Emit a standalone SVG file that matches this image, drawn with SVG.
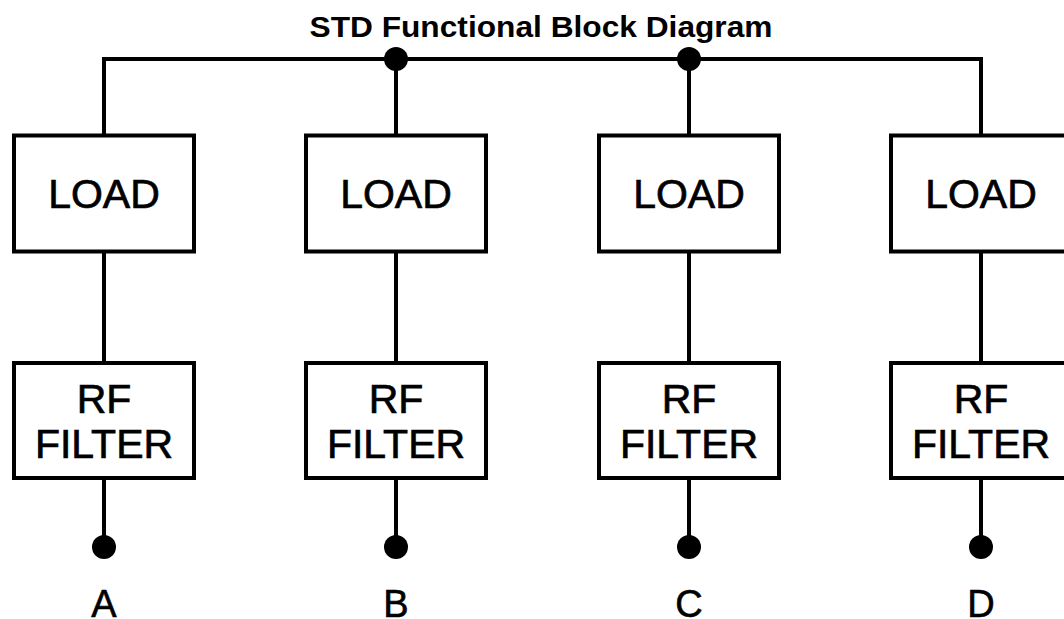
<svg xmlns="http://www.w3.org/2000/svg" width="1064" height="619" viewBox="0 0 1064 619">
<style>
.box{fill:#fff;stroke:#000;stroke-width:4}
.wire{fill:none;stroke:#000;stroke-width:4}
.dot{fill:#000}
.lbl{font-family:"Liberation Sans",Arial,sans-serif;font-size:41px;fill:#000;stroke:#000;stroke-width:0.7;text-anchor:middle}
.term{font-family:"Liberation Sans",Arial,sans-serif;font-size:38px;fill:#000;stroke:#000;stroke-width:0.6;text-anchor:middle}
.title{font-family:"Liberation Sans",Arial,sans-serif;font-size:30px;font-weight:bold;fill:#000;text-anchor:middle}
</style>
<rect width="1064" height="619" fill="#fff"/>
<text class="title" x="541" y="37" textLength="463" lengthAdjust="spacingAndGlyphs">STD Functional Block Diagram</text>
<g id="connectors">
<polyline class="wire" points="104,135 104,59 981,59 981,135"/>
<line class="wire" x1="396" y1="59" x2="396" y2="135"/>
<line class="wire" x1="689" y1="59" x2="689" y2="135"/>
<circle class="dot" cx="396" cy="59" r="12"/>
<circle class="dot" cx="689" cy="59" r="12"/>
<line class="wire" x1="104" y1="252" x2="104" y2="363"/>
<line class="wire" x1="396" y1="252" x2="396" y2="363"/>
<line class="wire" x1="689" y1="252" x2="689" y2="363"/>
<line class="wire" x1="981" y1="252" x2="981" y2="363"/>
<line class="wire" x1="104" y1="478" x2="104" y2="547"/>
<line class="wire" x1="396" y1="478" x2="396" y2="547"/>
<line class="wire" x1="689" y1="478" x2="689" y2="547"/>
<line class="wire" x1="981" y1="478" x2="981" y2="547"/>
</g>
<g id="load-a"><rect class="box" x="14" y="135.5" width="180" height="116"/><text class="lbl" x="104" y="208">LOAD</text></g>
<g id="load-b"><rect class="box" x="306" y="135.5" width="180" height="116"/><text class="lbl" x="396" y="208">LOAD</text></g>
<g id="load-c"><rect class="box" x="599" y="135.5" width="180" height="116"/><text class="lbl" x="689" y="208">LOAD</text></g>
<g id="load-d"><rect class="box" x="891" y="135.5" width="180" height="116"/><text class="lbl" x="981" y="208">LOAD</text></g>
<g id="rf-a"><rect class="box" x="14" y="363" width="180" height="115"/><text class="lbl" x="104" y="413">RF</text><text class="lbl" x="104" y="458">FILTER</text></g>
<g id="rf-b"><rect class="box" x="306" y="363" width="180" height="115"/><text class="lbl" x="396" y="413">RF</text><text class="lbl" x="396" y="458">FILTER</text></g>
<g id="rf-c"><rect class="box" x="599" y="363" width="180" height="115"/><text class="lbl" x="689" y="413">RF</text><text class="lbl" x="689" y="458">FILTER</text></g>
<g id="rf-d"><rect class="box" x="891" y="363" width="180" height="115"/><text class="lbl" x="981" y="413">RF</text><text class="lbl" x="981" y="458">FILTER</text></g>
<g id="term-a"><circle class="dot" cx="104" cy="547" r="12"/><text class="term" x="104" y="617">A</text></g>
<g id="term-b"><circle class="dot" cx="396" cy="547" r="12"/><text class="term" x="396" y="617">B</text></g>
<g id="term-c"><circle class="dot" cx="689" cy="547" r="12"/><text class="term" x="689" y="617">C</text></g>
<g id="term-d"><circle class="dot" cx="981" cy="547" r="12"/><text class="term" x="981" y="617">D</text></g>
</svg>
